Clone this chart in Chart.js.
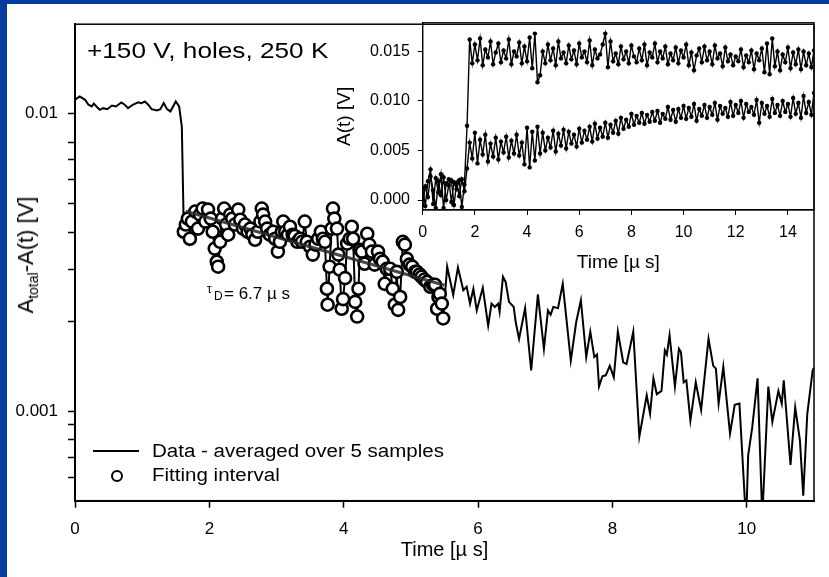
<!DOCTYPE html>
<html>
<head>
<meta charset="utf-8">
<script src="https://cdn.jsdelivr.net/npm/chart.js@4.4.1/dist/chart.umd.min.js"></script>
<style>
  body { margin: 0; background: #063a9c; width: 829px; height: 577px; overflow: hidden;
         font-family: Arial, "Liberation Sans", sans-serif; }
  #page { position: absolute; left: 7px; top: 4px; width: 822px; height: 573px; background: #fff; }
  canvas { position: absolute; }
  #mainChart { left: 0; top: 0; }
  #insetChart { left: 323px; top: 0; }
  .txt { position: absolute; white-space: nowrap; line-height: 1; color: #000; transform-origin: left center; }
</style>
</head>
<body>
<div id="page">
  <canvas id="mainChart" width="822" height="573"></canvas>
  <canvas id="insetChart" width="499" height="280"></canvas>

  <div class="txt" style="left:80px;top:35.8px;font-size:22px;transform:scaleX(1.19)">+150 V, holes, 250 K</div>

  <div class="txt" id="ytitle" style="left:18.7px;top:251px;font-size:22px;transform:translate(-50%,-50%) rotate(-90deg);transform-origin:center">A<span style="font-size:14px;position:relative;top:5px">total</span>-A(t) [V]</div>

  <div class="txt" style="left:200px;top:279.3px;font-size:12px">τ</div>
  <div class="txt" style="left:207px;top:285.8px;font-size:12px">D</div>
  <div class="txt" style="left:217px;top:280.5px;font-size:17px">= 6.7 µ s</div>

  <div style="position:absolute;left:86px;top:445.7px;width:46px;height:2px;background:#000"></div>
  <div style="position:absolute;left:103.7px;top:466px;width:12px;height:12px;box-sizing:border-box;border:2.5px solid #000;border-radius:50%;background:#fff"></div>
  <div class="txt" style="left:144.7px;top:437.5px;font-size:18px;transform:scaleX(1.14)">Data - averaged over 5 samples</div>
  <div class="txt" style="left:144.7px;top:462.4px;font-size:18px;transform:scaleX(1.14)">Fitting interval</div>
</div>

<script>
// main trace, A_total - A(t) in V, split at the fitting interval
const preTime = [0, 0.07, 0.15, 0.2, 0.25, 0.28, 0.33, 0.37, 0.42, 0.48, 0.55, 0.61, 0.69, 0.74, 0.79,
  0.86, 0.94, 0.99, 1.04, 1.09, 1.14, 1.22, 1.27, 1.32, 1.37, 1.42, 1.5, 1.55, 1.59];
const preSignal = [0.01114, 0.01144, 0.01114, 0.01072, 0.01058, 0.01081, 0.01052, 0.01031, 0.01044, 0.01036,
  0.01066, 0.01058, 0.01092, 0.01072, 0.01044, 0.01072, 0.01092, 0.01085, 0.01100, 0.01072, 0.01036, 0.01026,
  0.01036, 0.01086, 0.01036, 0.01018, 0.01100, 0.01058, 0.00906];

const fitTime = [1.62, 1.65, 1.68, 1.71, 1.74, 1.79, 1.83, 1.86, 1.90, 1.94, 1.98, 2.02, 2.05, 2.08, 2.11,
  2.13, 2.16, 2.19, 2.22, 2.25, 2.28, 2.31, 2.34, 2.38, 2.43, 2.46, 2.50, 2.53, 2.57, 2.61, 2.64, 2.68, 2.72,
  2.76, 2.78, 2.80, 2.83, 2.86, 2.90, 2.95, 2.98, 3.02, 3.05, 3.08, 3.10, 3.13, 3.17, 3.20, 3.24, 3.27, 3.31,
  3.35, 3.38, 3.42, 3.45, 3.50, 3.54, 3.58, 3.62, 3.66, 3.69, 3.72, 3.75, 3.76, 3.79, 3.82, 3.84, 3.86, 3.90,
  3.92, 3.94, 3.97, 3.99, 4.02, 4.05, 4.09, 4.12, 4.14, 4.17, 4.20, 4.22, 4.24, 4.27, 4.31, 4.35, 4.38, 4.42,
  4.46, 4.51, 4.54, 4.58, 4.61, 4.64, 4.69, 4.73, 4.76, 4.79, 4.81, 4.84, 4.88, 4.91, 4.94, 4.98, 5.02, 5.06,
  5.09, 5.13, 5.16, 5.20, 5.24, 5.29, 5.33, 5.36, 5.39, 5.41, 5.43, 5.46, 5.48];
const fitSignal = [0.00401, 0.00424, 0.00444, 0.00380, 0.00434, 0.00469, 0.00411, 0.00458, 0.00480, 0.00434,
  0.00476, 0.00444, 0.00401, 0.00352, 0.00318, 0.00306, 0.00371, 0.00444, 0.00480, 0.00424, 0.00392, 0.00458,
  0.00444, 0.00424, 0.00476, 0.00440, 0.00411, 0.00424, 0.00401, 0.00411, 0.00392, 0.00377, 0.00401, 0.00434,
  0.00480, 0.00458, 0.00434, 0.00411, 0.00392, 0.00401, 0.00380, 0.00344, 0.00371, 0.00401, 0.00434, 0.00401,
  0.00392, 0.00417, 0.00392, 0.00388, 0.00371, 0.00380, 0.00371, 0.00434, 0.00371, 0.00357, 0.00336, 0.00363,
  0.00380, 0.00401, 0.00380, 0.00371, 0.00258, 0.00228, 0.00306, 0.00411, 0.00480, 0.00444, 0.00411, 0.00336,
  0.00299, 0.00221, 0.00238, 0.00280, 0.00366, 0.00380, 0.00417, 0.00380, 0.00233, 0.00208, 0.00258, 0.00349,
  0.00344, 0.00313, 0.00395, 0.00363, 0.00344, 0.00311, 0.00344, 0.00325, 0.00318, 0.00268, 0.00301, 0.00301,
  0.00258, 0.00228, 0.00294, 0.00219, 0.00242, 0.00371, 0.00363, 0.00325, 0.00311, 0.00306, 0.00294, 0.00294,
  0.00288, 0.00283, 0.00277, 0.00272, 0.00262, 0.00266, 0.00266, 0.00221, 0.00242, 0.00248, 0.00230, 0.00205];

const postTime = [5.54, 5.63, 5.70, 5.78, 5.83, 5.88, 5.93, 5.98, 6.07, 6.15, 6.20, 6.25, 6.30, 6.32, 6.37,
  6.41, 6.46, 6.50, 6.53, 6.56, 6.61, 6.70, 6.79, 6.89, 6.98, 7.04, 7.08, 7.12, 7.19, 7.26, 7.38, 7.46, 7.53,
  7.61, 7.67, 7.73, 7.77, 7.80, 7.85, 7.90, 7.96, 8.02, 8.08, 8.16, 8.21, 8.31, 8.40, 8.51, 8.56, 8.61, 8.66,
  8.73, 8.78, 8.81, 8.85, 8.93, 8.99, 9.02, 9.06, 9.10, 9.16, 9.24, 9.32, 9.43, 9.50, 9.54, 9.58, 9.65, 9.75,
  9.82, 9.89, 9.99, 10.02, 10.08, 10.16, 10.23, 10.32, 10.38, 10.47, 10.52, 10.55, 10.65, 10.72, 10.79, 10.84,
  10.90, 10.98, 11.0];
const postSignal = [0.00306, 0.00246, 0.00304, 0.00255, 0.00262, 0.00230, 0.00258, 0.00218, 0.00260, 0.00194,
  0.00230, 0.00224, 0.00230, 0.00216, 0.00283, 0.00272, 0.00233, 0.00228, 0.00224, 0.00199, 0.00175, 0.00222,
  0.00137, 0.00247, 0.00162, 0.00218, 0.00211, 0.00224, 0.00222, 0.00268, 0.00148, 0.00199, 0.00236, 0.00152,
  0.00185, 0.00152, 0.00155, 0.00121, 0.00131, 0.00132, 0.00142, 0.00130, 0.00185, 0.00146, 0.00144, 0.00185,
  0.00082, 0.00113, 0.00098, 0.00129, 0.00114, 0.00117, 0.00160, 0.00155, 0.00180, 0.00121, 0.00162, 0.00158,
  0.00125, 0.00127, 0.00093, 0.00125, 0.00101, 0.00175, 0.00142, 0.00139, 0.00106, 0.00141, 0.00084, 0.00105,
  0.00106, 0.00042, 0.00071, 0.00088, 0.00129, 0.00044, 0.00121, 0.00092, 0.00117, 0.00106, 0.00127, 0.00066,
  0.00103, 0.00080, 0.00052, 0.00098, 0.00137, 0.00140];

// exponential fit, tau_D = 6.7 us (straight on the log axis)
const fitLineTime = [1.65, 5.5];
const fitLineSignal = [0.0047, 0.00265];

const mainYTicks = [0.0006, 0.0007, 0.0008, 0.0009, 0.001, 0.002, 0.003, 0.004, 0.005, 0.006, 0.007, 0.008, 0.01];
const mainYLabels = { 0.001: '0.001', 0.01: '0.01' };

// inset: A(t) in V, two transients
const insetTime = [0, 0.1, 0.2, 0.3, 0.4, 0.5, 0.6, 0.7, 0.8, 0.9, 1, 1.1, 1.2, 1.3, 1.4, 1.5, 1.6, 1.7, 1.8, 1.9,
  2, 2.1, 2.2, 2.3, 2.4, 2.5, 2.6, 2.7, 2.8, 2.9, 3, 3.1, 3.2, 3.3, 3.4, 3.5, 3.6, 3.7, 3.8, 3.9,
  4, 4.1, 4.2, 4.3, 4.4, 4.5, 4.6, 4.7, 4.8, 4.9, 5, 5.1, 5.2, 5.3, 5.4, 5.5, 5.6, 5.7, 5.8, 5.9,
  6, 6.1, 6.2, 6.3, 6.4, 6.5, 6.6, 6.7, 6.8, 6.9, 7, 7.1, 7.2, 7.3, 7.4, 7.5, 7.6, 7.7, 7.8, 7.9,
  8, 8.1, 8.2, 8.3, 8.4, 8.5, 8.6, 8.7, 8.8, 8.9, 9, 9.1, 9.2, 9.3, 9.4, 9.5, 9.6, 9.7, 9.8, 9.9,
  10, 10.1, 10.2, 10.3, 10.4, 10.5, 10.6, 10.7, 10.8, 10.9, 11, 11.1, 11.2, 11.3, 11.4, 11.5, 11.6, 11.7, 11.8, 11.9,
  12, 12.1, 12.2, 12.3, 12.4, 12.5, 12.6, 12.7, 12.8, 12.9, 13, 13.1, 13.2, 13.3, 13.4, 13.5, 13.6, 13.7, 13.8, 13.9,
  14, 14.1, 14.2, 14.3, 14.4, 14.5, 14.6, 14.7, 14.8, 14.9, 15];
const insetUpper = [0.0012, -0.0006, 0.0019, 0.0031, -0.0004, 0.0022, 0.0008, 0.0026, -0.0008, 0.0017,
  0.0021, -0.0002, 0.0018, 0.0011, 0.0020, -0.0007, 0.0016,
  0.0075, 0.0162,
  0.0138, 0.0157, 0.0141, 0.0163, 0.0136, 0.0152, 0.0144, 0.0160, 0.0137, 0.0149,
  0.0158, 0.0139, 0.0151, 0.0143, 0.0162, 0.0137, 0.0150, 0.0145, 0.0159, 0.0138,
  0.0155, 0.0140, 0.0164, 0.0133, 0.0168, 0.0119, 0.0126, 0.0150, 0.0138, 0.0157,
  0.0141, 0.0153, 0.0136, 0.0160, 0.0143, 0.0149, 0.0138, 0.0156, 0.0142, 0.0151,
  0.0137, 0.0158, 0.0144, 0.0150, 0.0139, 0.0161, 0.0136, 0.0152, 0.0143, 0.0147,
  0.0157, 0.0168, 0.0134, 0.0160, 0.0140, 0.0148, 0.0137, 0.0155, 0.0142, 0.0150,
  0.0138, 0.0156, 0.0145, 0.0139, 0.0153, 0.0141, 0.0157, 0.0136, 0.0149, 0.0144,
  0.0158, 0.0139, 0.0150, 0.0143, 0.0155, 0.0137, 0.0148, 0.0141, 0.0154, 0.0138,
  0.0151, 0.0144, 0.0157, 0.0136, 0.0149, 0.0131, 0.0146, 0.0153, 0.0139, 0.0155,
  0.0141, 0.0150, 0.0137, 0.0156, 0.0143, 0.0148, 0.0135, 0.0154, 0.0140, 0.0147,
  0.0136, 0.0145, 0.0140, 0.0152, 0.0134, 0.0146, 0.0139, 0.0151, 0.0132, 0.0148,
  0.0141, 0.0153, 0.0129, 0.0158, 0.0127, 0.0163, 0.0135, 0.0150, 0.0131, 0.0147,
  0.0139, 0.0154, 0.0133, 0.0149, 0.0137, 0.0152, 0.0132, 0.0150, 0.0136, 0.0148,
  0.0134, 0.0151];
const insetLower = [-0.0005, 0.0014, 0.0003, 0.0024, 0.0010, -0.0008, 0.0019, 0.0005, 0.0023, 0.0000,
  0.0015, 0.0020, -0.0005, 0.0017, 0.0004, 0.0021, 0.0009,
  0.0032, 0.0058,
  0.0042, 0.0068, 0.0037, 0.0061, 0.0046, 0.0066, 0.0039, 0.0057, 0.0044, 0.0063,
  0.0041, 0.0059, 0.0048, 0.0064, 0.0043, 0.0060, 0.0047, 0.0066, 0.0045, 0.0058,
  0.0036, 0.0073, 0.0033, 0.0069, 0.0040, 0.0074, 0.0047, 0.0068, 0.0050, 0.0063,
  0.0053, 0.0070, 0.0049, 0.0067, 0.0055, 0.0071, 0.0052, 0.0069, 0.0057, 0.0066,
  0.0054, 0.0072, 0.0058, 0.0070, 0.0061, 0.0074, 0.0059, 0.0077, 0.0062, 0.0073,
  0.0064, 0.0078, 0.0063, 0.0076, 0.0068, 0.0080, 0.0067, 0.0083, 0.0072, 0.0081,
  0.0074, 0.0087, 0.0076, 0.0085, 0.0078, 0.0088, 0.0077, 0.0086, 0.0079, 0.0089,
  0.0080, 0.0090, 0.0078, 0.0087, 0.0082, 0.0094, 0.0081, 0.0091, 0.0079, 0.0092,
  0.0083, 0.0095, 0.0082, 0.0093, 0.0084, 0.0097, 0.0080, 0.0092, 0.0085, 0.0096,
  0.0083, 0.0094, 0.0086, 0.0098, 0.0081, 0.0095, 0.0087, 0.0093, 0.0084, 0.0099,
  0.0085, 0.0096, 0.0088, 0.0100, 0.0083, 0.0097, 0.0089, 0.0094, 0.0086, 0.0101,
  0.0078, 0.0098, 0.0087, 0.0095, 0.0084, 0.0102, 0.0088, 0.0096, 0.0085, 0.0100,
  0.0089, 0.0097, 0.0084, 0.0103, 0.0087, 0.0098, 0.0083, 0.0105, 0.0088, 0.0099,
  0.0086, 0.0108];
const insetYTicks = [0, 0.005, 0.01, 0.015];

const FONT = 'Arial, "Liberation Sans", sans-serif';
Chart.defaults.font.family = FONT;
Chart.defaults.color = '#000';

const pts = (xs, ys) => xs.map((x, i) => ({ x: x, y: ys[i] }));

// box round the plot area
const frame = {
    id: 'frame',
    afterDraw(chart, args, opts) {
        const { ctx, chartArea: a } = chart;
        ctx.save();
        ctx.strokeStyle = '#000';
        ctx.lineWidth = opts.width;
        ctx.strokeRect(a.left, a.top, a.right - a.left, a.bottom - a.top);
        ctx.restore();
    },
};

new Chart(document.getElementById('mainChart'), {
    type: 'line',
    data: {
        datasets: [
            {
                label: 'Fit',
                data: pts(fitLineTime, fitLineSignal),
                borderColor: 'rgba(40,40,40,0.85)',
                borderWidth: 3,
                pointRadius: 0,
                order: 0,
            },
            {
                label: 'Fitting interval',
                data: pts(fitTime, fitSignal),
                showLine: false,
                pointRadius: 6,
                pointBorderWidth: 2.6,
                pointBackgroundColor: '#fff',
                pointBorderColor: '#000',
                order: 1,
            },
            {
                label: 'Data - averaged over 5 samples',
                data: pts(preTime, preSignal).concat(pts(fitTime, fitSignal), pts(postTime, postSignal)),
                borderColor: '#000',
                borderWidth: 2,
                pointRadius: 0,
                order: 2,
            },
        ],
    },
    options: {
        responsive: false,
        animation: false,
        layout: { padding: { top: 18.7, right: 15, left: 0, bottom: 0 } },
        plugins: { legend: { display: false }, tooltip: { enabled: false }, frame: { width: 1.5 } },
        scales: {
            x: {
                type: 'linear',
                min: 0,
                max: 11,
                afterFit: (s) => { s.height = 76.3; },
                grid: { drawOnChartArea: false, tickLength: 7, tickWidth: 1.5, tickColor: '#000' },
                border: { color: '#000', width: 2 },
                ticks: { stepSize: 2, includeBounds: false, padding: 11, maxRotation: 0, font: { size: 17 } },
                title: { display: true, text: 'Time [µ s]', font: { size: 20 }, padding: { top: 0, bottom: 15 } },
            },
            y: {
                type: 'logarithmic',
                min: 0.0005,
                max: 0.02,
                afterBuildTicks: (s) => { s.ticks = mainYTicks.map((v) => ({ value: v })); },
                afterFit: (s) => { s.width = 68; },
                grid: { drawOnChartArea: false, tickLength: 7, tickWidth: 1.5, tickColor: '#000' },
                border: { color: '#000', width: 2 },
                ticks: {
                    autoSkip: false,
                    padding: 10,
                    font: { size: 17 },
                    callback: (v) => mainYLabels[v] || '',
                },
            },
        },
    },
    plugins: [frame],
});

new Chart(document.getElementById('insetChart'), {
    type: 'line',
    data: {
        datasets: [
            {
                label: 'upper',
                data: pts(insetTime, insetUpper),
                borderColor: '#000',
                borderWidth: 1.4,
                pointRadius: 2.2,
                pointBackgroundColor: '#000',
                pointBorderWidth: 0,
            },
            {
                label: 'lower',
                data: pts(insetTime, insetLower),
                borderColor: '#000',
                borderWidth: 1.4,
                pointRadius: 2.2,
                pointBackgroundColor: '#000',
                pointBorderWidth: 0,
            },
        ],
    },
    options: {
        responsive: false,
        animation: false,
        layout: { padding: { top: 18.7, right: 15, left: 0, bottom: 0 } },
        plugins: { legend: { display: false }, tooltip: { enabled: false }, frame: { width: 1.2 } },
        scales: {
            x: {
                type: 'linear',
                min: 0,
                max: 15,
                afterFit: (s) => { s.height = 74; },
                grid: { drawOnChartArea: false, tickLength: 5, tickWidth: 1, tickColor: '#000' },
                border: { color: '#000', width: 1.2 },
                ticks: { stepSize: 2, includeBounds: false, padding: 8, maxRotation: 0, font: { size: 16 } },
                title: { display: true, text: 'Time [µ s]', font: { size: 19 }, padding: { top: 0, bottom: 9.6 } },
            },
            y: {
                min: -0.001,
                max: 0.0179,
                afterBuildTicks: (s) => { s.ticks = insetYTicks.map((v) => ({ value: v })); },
                afterFit: (s) => { s.width = 92.7; },
                grid: { drawOnChartArea: false, tickLength: 5, tickWidth: 1, tickColor: '#000' },
                border: { color: '#000', width: 1.2 },
                ticks: { autoSkip: false, padding: 7.7, font: { size: 16 }, callback: (v) => v.toFixed(3) },
                title: { display: true, text: 'A(t) [V]', font: { size: 19 }, padding: { top: 3.6, bottom: 0 } },
            },
        },
    },
    plugins: [frame],
});
</script>
</body>
</html>
